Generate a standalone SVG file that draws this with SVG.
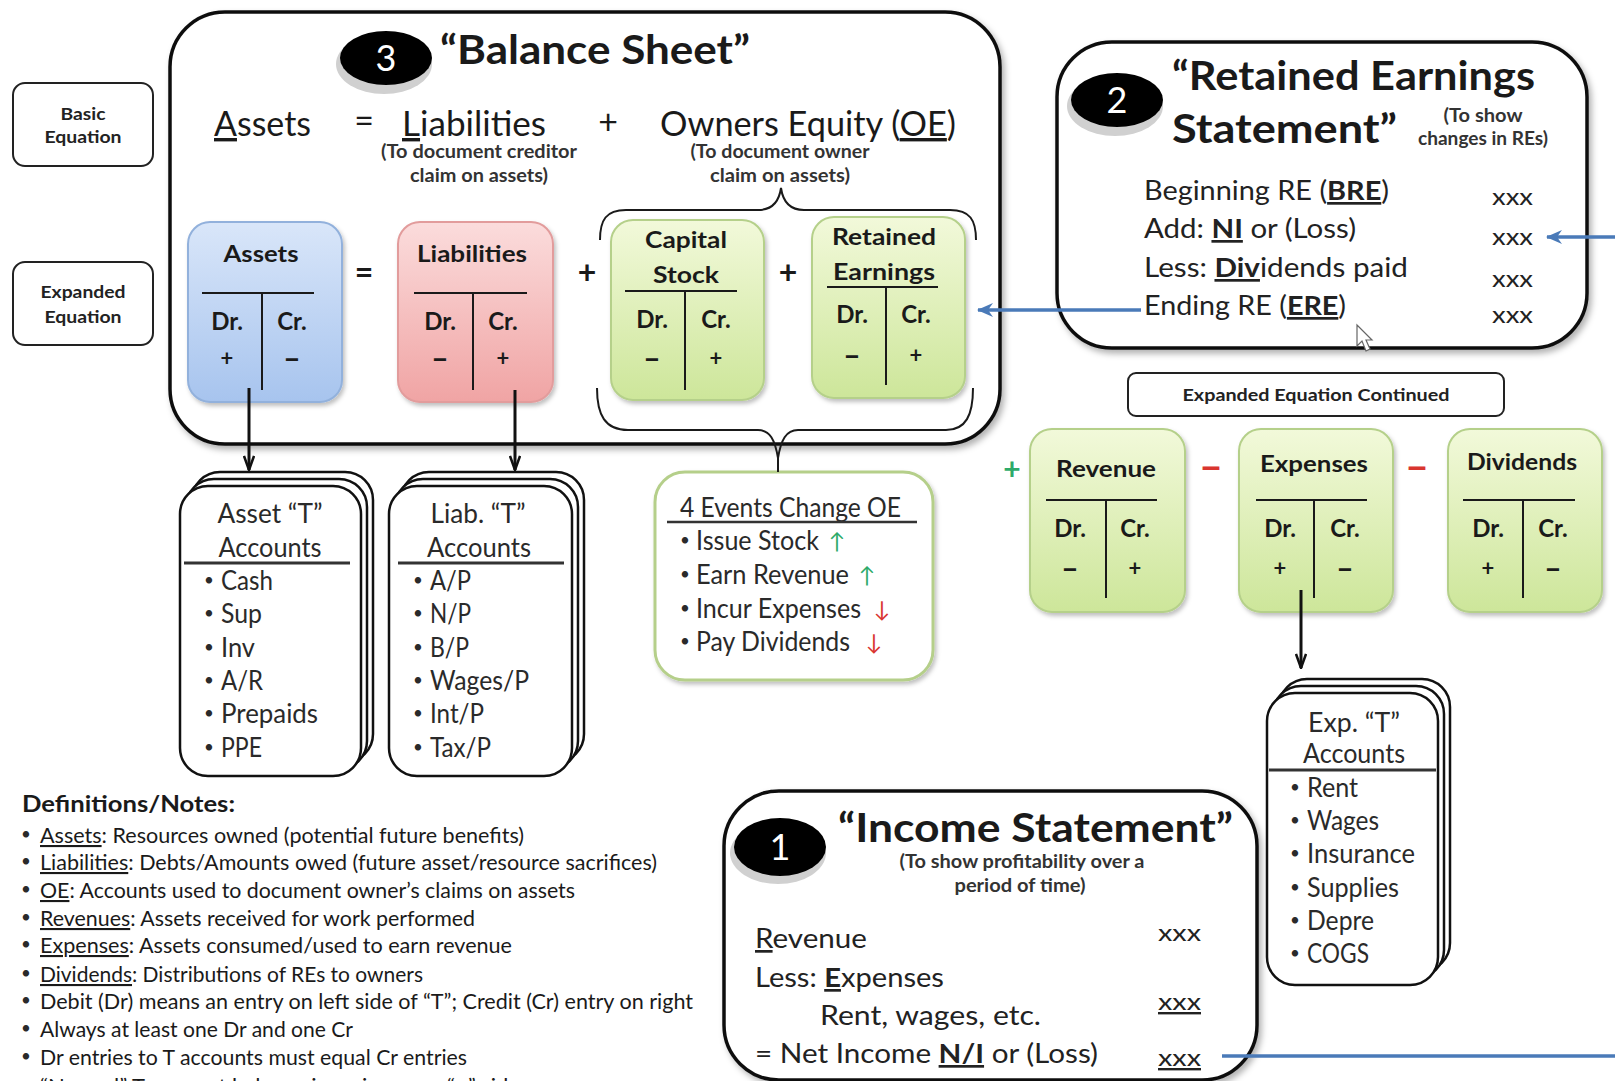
<svg xmlns="http://www.w3.org/2000/svg" width="1615" height="1081" viewBox="0 0 1615 1081">
<style>
text{font-family:Lato,"Open Sans","Liberation Sans",sans-serif;fill:#1a1a1a}
.b{font-weight:bold}
.u{text-decoration:underline}
.big{font-size:34px}
.sub{font-size:18px;font-weight:bold;text-anchor:middle;fill:#333}
.ttl{font-size:23px;font-weight:bold;text-anchor:middle}
.dc{font-size:24px;font-weight:bold;text-anchor:middle}
.pm{font-size:22px;font-weight:bold;text-anchor:middle;dominant-baseline:central}
.mn{font-size:30px;font-weight:bold;text-anchor:middle;dominant-baseline:central}
.tl{stroke:#1a1a1a;stroke-width:2;fill:none}
.frame{fill:#fff;stroke:#111;stroke-width:3.5}
.lbl{fill:#fff;stroke:#222;stroke-width:2}
.lt{font-size:17px;font-weight:bold;text-anchor:middle;fill:#222}
.acc{font-size:26px;fill:#2a2a2a}
.bul{font-size:17px;fill:#2a2a2a;text-anchor:middle}
.ah{font-size:26px;fill:#2a2a2a;text-anchor:middle}
.stk{fill:#fff;stroke:#111;stroke-width:2.5}
.hl{stroke:#333;stroke-width:3}
.row{font-size:27px;fill:#222}
.xxx{font-size:24px;fill:#222}
.note{font-size:21px;fill:#333}
.badge{font-size:36px;fill:#fff;text-anchor:middle}
.ttlbig{font-size:41px;font-weight:bold}
.blue{stroke:#4a7ab8;stroke-width:3.5;fill:none}
.blk{stroke:#111;stroke-width:3;fill:none}
.bluebox{fill:url(#gB);stroke:#92b1dc;stroke-width:2}
.pinkbox{fill:url(#gR);stroke:#e29c9c;stroke-width:2}
.greenbox{fill:url(#gG);stroke:#b5d08a;stroke-width:2}
</style>
<defs>
<linearGradient id="gB" x1="0" y1="0" x2="0" y2="1"><stop offset="0" stop-color="#d9e6f9"/><stop offset="1" stop-color="#a7c4ee"/></linearGradient>
<linearGradient id="gR" x1="0" y1="0" x2="0" y2="1"><stop offset="0" stop-color="#fbdcdc"/><stop offset="1" stop-color="#f0a4a4"/></linearGradient>
<linearGradient id="gG" x1="0" y1="0" x2="0" y2="1"><stop offset="0" stop-color="#f2f9da"/><stop offset="1" stop-color="#cde69a"/></linearGradient>
<filter id="sh" x="-10%" y="-10%" width="125%" height="125%"><feDropShadow dx="3" dy="4" stdDeviation="3" flood-color="#000" flood-opacity="0.3"/></filter>
<filter id="sh2" x="-10%" y="-10%" width="125%" height="125%"><feDropShadow dx="2" dy="3" stdDeviation="2" flood-color="#000" flood-opacity="0.25"/></filter>
<marker id="chev" viewBox="0 0 16 12" refX="15" refY="6" markerWidth="16" markerHeight="12" markerUnits="userSpaceOnUse" orient="auto"><path d="M1,1 L15,6 L1,11" fill="none" stroke="#111" stroke-width="2.5"/></marker>
<marker id="barrow" viewBox="0 0 16 14" refX="15" refY="7" markerWidth="16" markerHeight="14" markerUnits="userSpaceOnUse" orient="auto"><path d="M0,0 L16,7 L0,14 L5,7 Z" fill="#4a7ab8"/></marker>
</defs>
<rect width="1615" height="1081" fill="#fff"/>

<g id="label-basic">
<rect class="lbl" x="13" y="83" width="140" height="83" rx="12"/>
<text class="lt" x="83" y="120" textLength="45" lengthAdjust="spacingAndGlyphs">Basic</text>
<text class="lt" x="83" y="143" textLength="77" lengthAdjust="spacingAndGlyphs">Equation</text>
</g>
<g id="label-expanded">
<rect class="lbl" x="13" y="262" width="140" height="83" rx="12"/>
<text class="lt" x="83" y="298" textLength="85" lengthAdjust="spacingAndGlyphs">Expanded</text>
<text class="lt" x="83" y="323" textLength="77" lengthAdjust="spacingAndGlyphs">Equation</text>
</g>

<g id="balance-sheet">
<rect class="frame" x="170" y="12" width="830" height="432" rx="55" filter="url(#sh)"/>
<ellipse cx="384" cy="64" rx="48" ry="30" fill="#d0d0d0"/>
<ellipse cx="386" cy="58" rx="46" ry="27" fill="#000"/>
<text class="badge" x="386" y="71">3</text>
<text class="ttlbig" x="440" y="64" textLength="310" lengthAdjust="spacingAndGlyphs">“Balance Sheet”</text>
<text class="big" x="214" y="136" textLength="97" lengthAdjust="spacingAndGlyphs"><tspan class="u">A</tspan>ssets</text>
<text class="big" x="364" y="133" text-anchor="middle">=</text>
<text class="big" x="402" y="136" textLength="144" lengthAdjust="spacingAndGlyphs"><tspan class="u">L</tspan>iabilities</text>
<text class="sub" x="479" y="158" textLength="196" lengthAdjust="spacingAndGlyphs">(To document creditor</text>
<text class="sub" x="479" y="182" textLength="138" lengthAdjust="spacingAndGlyphs">claim on assets)</text>
<text class="big" x="608" y="134" text-anchor="middle">+</text>
<text class="big" x="660" y="136" textLength="296" lengthAdjust="spacingAndGlyphs">Owners Equity (<tspan class="u">OE</tspan>)</text>
<text class="sub" x="780" y="158" textLength="179" lengthAdjust="spacingAndGlyphs">(To document owner</text>
<text class="sub" x="780" y="182" textLength="140" lengthAdjust="spacingAndGlyphs">claim on assets)</text>
</g>

<g id="assets-t">
<rect class="bluebox" x="188" y="222" width="154" height="180" rx="22" filter="url(#sh2)"/>
<text class="ttl" x="261" y="262" textLength="75" lengthAdjust="spacingAndGlyphs">Assets</text>
<path class="tl" d="M202,293 H314 M262,293 V390"/>
<text class="dc" x="227" y="330">Dr.</text>
<text class="dc" x="292" y="330">Cr.</text>
<text class="pm" x="227" y="357">+</text>
<text class="mn" x="292" y="357">–</text>
</g>
<text class="b" x="364" y="284" font-size="32" text-anchor="middle">=</text>

<g id="liabilities-t">
<rect class="pinkbox" x="398" y="222" width="155" height="180" rx="22" filter="url(#sh2)"/>
<text class="ttl" x="472" y="262" textLength="110" lengthAdjust="spacingAndGlyphs">Liabilities</text>
<path class="tl" d="M414,293 H527 M473,293 V390"/>
<text class="dc" x="440" y="330">Dr.</text>
<text class="dc" x="503" y="330">Cr.</text>
<text class="mn" x="440" y="357">–</text>
<text class="pm" x="503" y="357">+</text>
</g>
<text class="b" x="587" y="284" font-size="32" text-anchor="middle">+</text>

<g id="capital-stock-t">
<rect class="greenbox" x="611" y="220" width="153" height="180" rx="22" filter="url(#sh2)"/>
<text class="ttl" x="686" y="248" textLength="82" lengthAdjust="spacingAndGlyphs">Capital</text>
<text class="ttl" x="686" y="283" textLength="66" lengthAdjust="spacingAndGlyphs">Stock</text>
<path class="tl" d="M625,291 H737 M685,291 V390"/>
<text class="dc" x="652" y="328">Dr.</text>
<text class="dc" x="716" y="328">Cr.</text>
<text class="mn" x="652" y="357">–</text>
<text class="pm" x="716" y="357">+</text>
</g>
<text class="b" x="788" y="284" font-size="32" text-anchor="middle">+</text>

<g id="retained-earnings-t">
<rect class="greenbox" x="812" y="217" width="153" height="181" rx="22" filter="url(#sh2)"/>
<text class="ttl" x="884" y="245" textLength="104" lengthAdjust="spacingAndGlyphs">Retained</text>
<text class="ttl" x="884" y="280" textLength="102" lengthAdjust="spacingAndGlyphs">Earnings</text>
<path class="tl" d="M827,287 H938 M886,287 V385"/>
<text class="dc" x="852" y="323">Dr.</text>
<text class="dc" x="916" y="323">Cr.</text>
<text class="mn" x="852" y="354">–</text>
<text class="pm" x="916" y="354">+</text>
</g>

<g id="asset-t-accounts">
<rect class="stk" x="192" y="472" width="181" height="290" rx="28"/>
<rect class="stk" x="186" y="479" width="181" height="290" rx="28"/>
<rect class="stk" x="180" y="486" width="181" height="290" rx="28"/>
<text class="ah" x="270" y="523" textLength="105" lengthAdjust="spacingAndGlyphs">Asset “T”</text>
<text class="ah" x="270" y="557" textLength="103" lengthAdjust="spacingAndGlyphs">Accounts</text>
<line class="hl" x1="184" y1="563" x2="350" y2="563"/>
<text class="bul" x="209" y="586">•</text><text class="acc" x="221" y="590" textLength="52" lengthAdjust="spacingAndGlyphs">Cash</text>
<text class="bul" x="209" y="619">•</text><text class="acc" x="221" y="623" textLength="41" lengthAdjust="spacingAndGlyphs">Sup</text>
<text class="bul" x="209" y="653">•</text><text class="acc" x="221" y="657" textLength="34" lengthAdjust="spacingAndGlyphs">Inv</text>
<text class="bul" x="209" y="686">•</text><text class="acc" x="221" y="690" textLength="42" lengthAdjust="spacingAndGlyphs">A/R</text>
<text class="bul" x="209" y="719">•</text><text class="acc" x="221" y="723" textLength="97" lengthAdjust="spacingAndGlyphs">Prepaids</text>
<text class="bul" x="209" y="753">•</text><text class="acc" x="221" y="757" textLength="41" lengthAdjust="spacingAndGlyphs">PPE</text>
</g>

<g id="liab-t-accounts">
<rect class="stk" x="401" y="472" width="183" height="290" rx="28"/>
<rect class="stk" x="395" y="479" width="183" height="290" rx="28"/>
<rect class="stk" x="389" y="486" width="183" height="290" rx="28"/>
<text class="ah" x="478" y="523" textLength="95" lengthAdjust="spacingAndGlyphs">Liab. “T”</text>
<text class="ah" x="479" y="557" textLength="104" lengthAdjust="spacingAndGlyphs">Accounts</text>
<line class="hl" x1="398" y1="563" x2="564" y2="563"/>
<text class="bul" x="418" y="586">•</text><text class="acc" x="430" y="590" textLength="41" lengthAdjust="spacingAndGlyphs">A/P</text>
<text class="bul" x="418" y="619">•</text><text class="acc" x="430" y="623" textLength="41" lengthAdjust="spacingAndGlyphs">N/P</text>
<text class="bul" x="418" y="653">•</text><text class="acc" x="430" y="657" textLength="39" lengthAdjust="spacingAndGlyphs">B/P</text>
<text class="bul" x="418" y="686">•</text><text class="acc" x="430" y="690" textLength="99" lengthAdjust="spacingAndGlyphs">Wages/P</text>
<text class="bul" x="418" y="719">•</text><text class="acc" x="430" y="723" textLength="54" lengthAdjust="spacingAndGlyphs">Int/P</text>
<text class="bul" x="418" y="753">•</text><text class="acc" x="430" y="757" textLength="61" lengthAdjust="spacingAndGlyphs">Tax/P</text>
</g>

<g id="four-events">
<rect x="655" y="472" width="278" height="208" rx="30" fill="#fff" stroke="#b5cf8a" stroke-width="3" filter="url(#sh2)"/>
<text class="acc" x="680" y="517" font-size="24" textLength="221" lengthAdjust="spacingAndGlyphs">4 Events Change OE</text>
<line x1="667" y1="522" x2="917" y2="522" stroke="#333" stroke-width="2.5"/>
<text class="bul" x="685" y="546">•</text><text class="acc" x="696" y="550" font-size="24" textLength="123" lengthAdjust="spacingAndGlyphs">Issue Stock</text>
<text class="bul" x="685" y="580">•</text><text class="acc" x="696" y="584" font-size="24" textLength="153" lengthAdjust="spacingAndGlyphs">Earn Revenue</text>
<text class="bul" x="685" y="614">•</text><text class="acc" x="696" y="618" font-size="24" textLength="165" lengthAdjust="spacingAndGlyphs">Incur Expenses</text>
<text class="bul" x="685" y="647">•</text><text class="acc" x="696" y="651" font-size="24" textLength="154" lengthAdjust="spacingAndGlyphs">Pay Dividends</text>
<text x="837" y="549" font-size="22" style="fill:#2eaa6a" text-anchor="middle">↑</text>
<text x="867" y="583" font-size="22" style="fill:#2eaa6a" text-anchor="middle">↑</text>
<text x="882" y="617" font-size="22" style="fill:#d9352f" text-anchor="middle">↓</text>
<text x="874" y="650" font-size="22" style="fill:#d9352f" text-anchor="middle">↓</text>
</g>

<g id="retained-earnings-statement">
<rect class="frame" x="1057" y="42" width="530" height="306" rx="55" filter="url(#sh)"/>
<ellipse cx="1115" cy="106" rx="48" ry="30" fill="#d0d0d0"/>
<ellipse cx="1117" cy="100" rx="46" ry="27" fill="#000"/>
<text class="badge" x="1117" y="113">2</text>
<text class="ttlbig" x="1172" y="90" textLength="363" lengthAdjust="spacingAndGlyphs">“Retained Earnings</text>
<text class="ttlbig" x="1172" y="143" textLength="225" lengthAdjust="spacingAndGlyphs">Statement”</text>
<text class="sub" x="1483" y="122" font-size="16" textLength="79" lengthAdjust="spacingAndGlyphs">(To show</text>
<text class="sub" x="1483" y="145" font-size="16" textLength="130" lengthAdjust="spacingAndGlyphs">changes in REs)</text>
<text class="row" x="1144" y="200" textLength="245" lengthAdjust="spacingAndGlyphs">Beginning RE (<tspan class="b u">BRE</tspan>)</text>
<text class="row" x="1144" y="238" textLength="212" lengthAdjust="spacingAndGlyphs">Add: <tspan class="b u">NI</tspan> or (Loss)</text>
<text class="row" x="1144" y="277" textLength="264" lengthAdjust="spacingAndGlyphs">Less: <tspan class="b u">Div</tspan>idends paid</text>
<text class="row" x="1144" y="315" textLength="202" lengthAdjust="spacingAndGlyphs">Ending RE (<tspan class="b u">ERE</tspan>)</text>
<text class="xxx" x="1492" y="205" textLength="41" lengthAdjust="spacingAndGlyphs">xxx</text>
<text class="xxx" x="1492" y="245" textLength="41" lengthAdjust="spacingAndGlyphs">xxx</text>
<text class="xxx" x="1492" y="287" textLength="41" lengthAdjust="spacingAndGlyphs">xxx</text>
<text class="xxx" x="1492" y="323" textLength="41" lengthAdjust="spacingAndGlyphs">xxx</text>
<path d="M1357,325 V346 L1362,341 L1366,351 L1370,349 L1366,340 L1372,340 Z" fill="#fff" stroke="#666" stroke-width="1.2"/>
</g>

<g id="label-expanded-continued">
<rect class="lbl" x="1128" y="373" width="376" height="43" rx="8"/>
<text class="lt" x="1316" y="401" font-size="16" textLength="267" lengthAdjust="spacingAndGlyphs">Expanded Equation  Continued</text>
</g>

<text class="b" x="1012" y="480" font-size="30" text-anchor="middle" style="fill:#2eaa6a">+</text>
<g id="revenue-t">
<rect class="greenbox" x="1030" y="429" width="155" height="183" rx="22" filter="url(#sh2)"/>
<text class="ttl" x="1106" y="477" textLength="100" lengthAdjust="spacingAndGlyphs">Revenue</text>
<path class="tl" d="M1046,500 H1157 M1106,500 V598"/>
<text class="dc" x="1070" y="537">Dr.</text>
<text class="dc" x="1135" y="537">Cr.</text>
<text class="mn" x="1070" y="567">–</text>
<text class="pm" x="1135" y="567">+</text>
</g>
<text class="b" x="1211" y="465" font-size="40" text-anchor="middle" dominant-baseline="central" textLength="24" lengthAdjust="spacingAndGlyphs" style="fill:#d9352f">–</text>
<g id="expenses-t">
<rect class="greenbox" x="1239" y="429" width="154" height="183" rx="22" filter="url(#sh2)"/>
<text class="ttl" x="1314" y="472" textLength="108" lengthAdjust="spacingAndGlyphs">Expenses</text>
<path class="tl" d="M1256,500 H1367 M1314,500 V598"/>
<text class="dc" x="1280" y="537">Dr.</text>
<text class="dc" x="1345" y="537">Cr.</text>
<text class="pm" x="1280" y="567">+</text>
<text class="mn" x="1345" y="567">–</text>
</g>
<text class="b" x="1417" y="465" font-size="40" text-anchor="middle" dominant-baseline="central" textLength="24" lengthAdjust="spacingAndGlyphs" style="fill:#d9352f">–</text>
<g id="dividends-t">
<rect class="greenbox" x="1448" y="429" width="154" height="183" rx="22" filter="url(#sh2)"/>
<text class="ttl" x="1522" y="470" textLength="110" lengthAdjust="spacingAndGlyphs">Dividends</text>
<path class="tl" d="M1463,500 H1575 M1523,500 V598"/>
<text class="dc" x="1488" y="537">Dr.</text>
<text class="dc" x="1553" y="537">Cr.</text>
<text class="pm" x="1488" y="567">+</text>
<text class="mn" x="1553" y="567">–</text>
</g>

<g id="exp-t-accounts">
<rect class="stk" x="1279" y="679" width="171" height="292" rx="28"/>
<rect class="stk" x="1273" y="686" width="171" height="292" rx="28"/>
<rect class="stk" x="1267" y="693" width="171" height="292" rx="28"/>
<text class="ah" x="1354" y="732" textLength="92" lengthAdjust="spacingAndGlyphs">Exp. “T”</text>
<text class="ah" x="1354" y="763" textLength="102" lengthAdjust="spacingAndGlyphs">Accounts</text>
<line class="hl" x1="1269" y1="770" x2="1436" y2="770"/>
<text class="bul" x="1295" y="793">•</text><text class="acc" x="1307" y="797" textLength="51" lengthAdjust="spacingAndGlyphs">Rent</text>
<text class="bul" x="1295" y="826">•</text><text class="acc" x="1307" y="830" textLength="72" lengthAdjust="spacingAndGlyphs">Wages</text>
<text class="bul" x="1295" y="859">•</text><text class="acc" x="1307" y="863" textLength="108" lengthAdjust="spacingAndGlyphs">Insurance</text>
<text class="bul" x="1295" y="893">•</text><text class="acc" x="1307" y="897" textLength="92" lengthAdjust="spacingAndGlyphs">Supplies</text>
<text class="bul" x="1295" y="926">•</text><text class="acc" x="1307" y="930" textLength="67" lengthAdjust="spacingAndGlyphs">Depre</text>
<text class="bul" x="1295" y="959">•</text><text class="acc" x="1307" y="963" textLength="62" lengthAdjust="spacingAndGlyphs">COGS</text>
</g>

<g id="income-statement">
<rect class="frame" x="724" y="791" width="533" height="289" rx="55" filter="url(#sh)"/>
<ellipse cx="778" cy="853" rx="48" ry="31" fill="#d0d0d0"/>
<ellipse cx="780" cy="847" rx="46" ry="29" fill="#000"/>
<text class="badge" x="780" y="860">1</text>
<text class="ttlbig" x="838" y="842" textLength="395" lengthAdjust="spacingAndGlyphs">“Income Statement”</text>
<text class="sub" x="1022" y="868" font-size="16" textLength="245" lengthAdjust="spacingAndGlyphs">(To show profitability over a</text>
<text class="sub" x="1020" y="892" font-size="16" textLength="131" lengthAdjust="spacingAndGlyphs">period of time)</text>
<text class="row" x="755" y="948" textLength="112" lengthAdjust="spacingAndGlyphs"><tspan class="u">R</tspan>evenue</text>
<text class="row" x="755" y="987" textLength="189" lengthAdjust="spacingAndGlyphs">Less: <tspan class="b u">E</tspan>xpenses</text>
<text class="row" x="820" y="1025" textLength="221" lengthAdjust="spacingAndGlyphs">Rent, wages, etc.</text>
<text class="row" x="755" y="1063" textLength="343" lengthAdjust="spacingAndGlyphs">= Net Income <tspan class="b u">N/I</tspan> or (Loss)</text>
<text class="xxx" x="1158" y="941" textLength="43" lengthAdjust="spacingAndGlyphs">xxx</text>
<text class="xxx" x="1158" y="1010" textLength="43" lengthAdjust="spacingAndGlyphs"><tspan class="u">xxx</tspan></text>
<text class="xxx" x="1158" y="1066" textLength="43" lengthAdjust="spacingAndGlyphs"><tspan class="u">xxx</tspan></text>
</g>

<g id="definitions-notes">
<text class="b" x="22" y="812" font-size="23" textLength="213" lengthAdjust="spacingAndGlyphs">Definitions/Notes:</text>
<g class="note">
<text class="bul" x="26" y="840">•</text><text x="40" y="843" textLength="484" lengthAdjust="spacingAndGlyphs"><tspan class="u">Assets</tspan>: Resources owned (potential future benefits)</text>
<text class="bul" x="26" y="867">•</text><text x="40" y="870" textLength="617" lengthAdjust="spacingAndGlyphs"><tspan class="u">Liabilities</tspan>: Debts/Amounts owed (future asset/resource sacrifices)</text>
<text class="bul" x="26" y="895">•</text><text x="40" y="898" textLength="535" lengthAdjust="spacingAndGlyphs"><tspan class="u">OE</tspan>: Accounts used to document owner’s claims on assets</text>
<text class="bul" x="26" y="923">•</text><text x="40" y="926" textLength="435" lengthAdjust="spacingAndGlyphs"><tspan class="u">Revenues</tspan>: Assets received for work performed</text>
<text class="bul" x="26" y="950">•</text><text x="40" y="953" textLength="472" lengthAdjust="spacingAndGlyphs"><tspan class="u">Expenses</tspan>:  Assets consumed/used to earn revenue</text>
<text class="bul" x="26" y="979">•</text><text x="40" y="982" textLength="383" lengthAdjust="spacingAndGlyphs"><tspan class="u">Dividends</tspan>: Distributions of REs to owners</text>
<text class="bul" x="26" y="1006">•</text><text x="40" y="1009" textLength="653" lengthAdjust="spacingAndGlyphs">Debit (Dr) means an entry on left side of “T”; Credit (Cr) entry on right</text>
<text class="bul" x="26" y="1034">•</text><text x="40" y="1037" textLength="313" lengthAdjust="spacingAndGlyphs">Always at least one Dr and one Cr</text>
<text class="bul" x="26" y="1062">•</text><text x="40" y="1065" textLength="427" lengthAdjust="spacingAndGlyphs">Dr entries to T accounts must equal Cr entries</text>
<text class="bul" x="26" y="1091">•</text><text x="40" y="1094" textLength="480" lengthAdjust="spacingAndGlyphs">“Normal” T account balance is on increase “+” side</text>
</g>
</g>

<g id="connectors">
<path class="tl" d="M600,240 C600,220 606,210 626,210 L758,210 C772,210 779,202 781,188 C783,202 790,210 804,210 L950,210 C970,210 976,220 976,240"/>
<path class="tl" d="M597,388 C597,415 605,430 628,430 L758,430 C770,430 775,440 778,458 L778,472 M778,458 C781,440 786,430 798,430 L946,430 C966,430 973,415 973,388"/>
<line class="blk" x1="249" y1="388" x2="249" y2="470" marker-end="url(#chev)"/>
<line class="blk" x1="515" y1="390" x2="515" y2="470" marker-end="url(#chev)"/>
<line class="blk" x1="1301" y1="590" x2="1301" y2="668" marker-end="url(#chev)"/>
<line class="blue" x1="1141" y1="310" x2="978" y2="310" marker-end="url(#barrow)"/>
<line class="blue" x1="1615" y1="237" x2="1547" y2="237" marker-end="url(#barrow)"/>
<line class="blue" x1="1222" y1="1056" x2="1615" y2="1056"/>
</g>
</svg>
